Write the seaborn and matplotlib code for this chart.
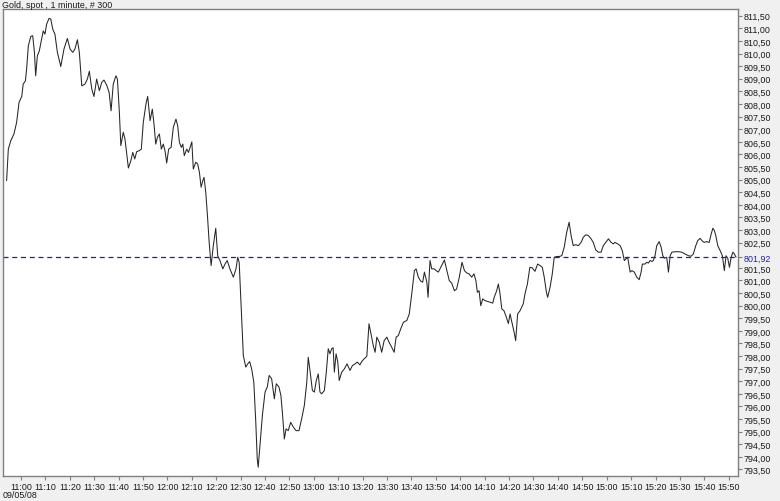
import matplotlib
matplotlib.use("Agg")
import matplotlib.pyplot as plt
import seaborn as sns
import pandas as pd
import numpy as np

# ---- data (bar index: 0 = 10:54, one bar per minute) ----
bar = [0.1, 0.8, 1.8, 3.1, 4.2, 5.2, 6.3, 6.9, 7.8, 8.3, 9.0, 10.0, 10.8, 11.5, 12.0, 12.7,
       13.5, 14.3, 15.1, 15.8, 16.5, 17.5, 18.2, 19.0, 19.9, 20.9, 22.3, 23.6, 25.0, 26.1,
       27.2, 28.1, 29.1, 29.9, 30.9, 32.2, 33.2, 34.0, 35.0, 35.9, 37.0, 38.1, 39.1, 40.0,
       41.1, 42.1, 42.9, 43.8, 44.9, 45.5, 46.3, 46.9, 47.9, 48.6, 50.0, 51.0, 51.8, 52.6,
       53.4, 54.5, 55.3, 56.1, 57.2, 57.9, 58.9, 59.8, 60.5, 61.2, 61.9, 62.7, 63.5, 64.3,
       65.0, 65.7, 66.5, 67.5, 68.4, 69.5, 70.2, 70.9, 71.7, 72.3, 72.9, 73.9, 74.6, 75.3,
       76.0, 76.6, 77.6, 78.4, 79.1, 79.8, 80.5, 81.0, 81.7, 82.4, 83.1, 83.9, 84.8, 85.8,
       86.6, 87.5, 88.7, 89.6, 90.5, 91.6, 93.0, 94.1, 94.8, 95.4, 95.7, 96.4, 97.1, 98.1,
       98.9, 99.7, 100.5, 101.4, 102.2, 102.8, 103.2, 103.9, 104.9, 106.0, 106.9, 107.7,
       108.7, 109.8, 110.6, 111.7, 112.5, 113.2, 113.9, 114.6, 115.5, 116.5, 117.6, 118.7,
       119.9, 121.0, 122.1, 123.1, 123.7, 124.5, 125.4, 126.2, 127.0, 127.8, 128.5, 129.2,
       130.3, 131.1, 131.9, 132.6, 133.3, 133.9, 134.4, 135.1, 135.8, 136.4, 137.4, 138.5,
       139.6, 140.8, 141.8, 142.9, 143.8, 144.9, 145.6, 146.6, 147.7, 148.6, 149.4, 150.4,
       151.1, 151.8, 152.8, 153.8, 154.8, 155.9, 156.8, 157.9, 158.9, 159.7, 160.6, 161.6,
       162.7, 164.1, 165.1, 166.1, 167.2, 167.9, 168.8, 169.8, 170.6, 171.3, 172.3, 172.8,
       173.6, 174.3, 175.3, 176.1, 177.0, 178.0, 178.8, 179.5, 180.5, 181.5, 182.5, 183.6,
       184.5, 185.6, 186.7, 187.7, 188.6, 189.6, 190.7, 191.6, 192.4, 193.0, 193.7, 194.4,
       195.2, 196.1, 197.1, 198.2, 199.3, 199.9, 200.9, 201.6, 202.3, 203.0, 203.9, 204.8,
       205.7, 206.4, 207.3, 208.2, 208.7, 209.5, 210.5, 211.2, 211.8, 212.5, 213.5, 214.5,
       215.5, 216.6, 217.7, 218.7, 219.6, 220.4, 221.3, 221.8, 222.8, 223.7, 224.5, 225.5,
       226.5, 227.6, 228.6, 229.6, 230.6, 231.4, 232.3, 233.3, 234.4, 235.5, 236.4, 237.4,
       238.5, 239.6, 240.5, 241.5, 242.6, 243.7, 244.6, 245.6, 246.7, 247.8, 248.7, 249.4,
       250.5, 251.5, 252.4, 253.2, 254.6, 255.6, 256.3, 257.3, 258.3, 259.3, 260.1, 260.6,
       261.7, 262.4, 263.1, 263.8, 264.5, 265.1, 265.8, 266.5, 267.5, 268.3, 269.0, 269.6,
       270.6, 271.3, 272.0, 272.7, 274.0, 275.4, 276.8, 278.1, 279.5, 280.6, 281.5, 282.5,
       283.3, 284.3, 285.0, 285.9, 287.0, 288.0, 288.8, 289.5, 290.1, 290.7, 291.5, 292.5,
       293.4, 294.2, 294.9, 295.6, 296.3, 297.0, 297.7, 298.3, 299.0]

price = [804.96, 806.21, 806.54, 806.81, 807.27, 808.07, 808.30, 808.79, 808.92, 809.39, 810.31,
         810.68, 810.71, 810.05, 809.12, 809.91, 810.11, 810.51, 810.90, 810.77, 811.17, 811.40,
         811.37, 810.97, 810.77, 810.05, 809.49, 810.18, 810.60, 810.18, 810.05, 810.18, 810.55,
         810.05, 808.72, 808.79, 808.99, 809.30, 808.59, 808.30, 808.99, 808.53, 808.86, 808.95,
         808.75, 808.46, 807.73, 808.79, 809.12, 808.99, 807.67, 806.35, 806.88, 806.61, 805.46,
         805.75, 806.08, 805.82, 806.11, 806.15, 806.21, 807.27, 808.00, 808.30, 807.34, 807.80,
         807.20, 806.41, 806.68, 806.81, 806.21, 806.41, 806.15, 805.66, 806.21, 806.28, 807.07,
         807.40, 807.14, 806.48, 806.28, 806.41, 805.95, 806.21, 806.08, 806.28, 806.50, 805.42,
         805.69, 805.62, 805.29, 804.70, 804.96, 805.09, 804.50, 803.57, 802.51, 801.59, 802.38,
         803.07, 801.98, 801.79, 801.46, 801.65, 801.79, 801.46, 801.13, 801.46, 801.92, 801.72,
         801.06, 799.60, 798.02, 797.56, 797.69, 797.78, 797.49, 796.96, 795.38, 793.92, 793.59,
         794.45, 795.64, 796.57, 796.77, 797.23, 797.10, 796.30, 796.90, 796.77, 796.43, 795.64,
         794.71, 795.11, 795.04, 795.37, 795.18, 795.04, 795.04, 795.51, 796.04, 796.96, 797.95,
         797.36, 796.63, 796.57, 797.03, 797.29, 796.57, 796.50, 796.63, 797.36, 798.29, 798.09,
         798.29, 798.33, 797.36, 798.09, 797.76, 797.03, 797.36, 797.49, 797.69, 797.43, 797.62,
         797.69, 797.76, 797.65, 797.78, 797.89, 797.99, 799.28, 798.88, 798.39, 798.15, 798.75,
         798.55, 798.15, 798.61, 798.75, 798.55, 798.35, 798.15, 798.75, 798.81, 799.08, 799.34,
         799.41, 799.67, 800.46, 801.39, 801.46, 801.13, 800.97, 800.93, 801.33, 800.93, 800.33,
         801.79, 801.46, 801.46, 801.39, 801.33, 801.52, 801.68, 801.81, 801.39, 800.99, 800.89,
         800.59, 800.66, 801.13, 801.72, 801.39, 801.30, 801.26, 801.13, 801.26, 800.99, 800.53,
         800.59, 800.00, 800.27, 800.20, 800.17, 800.14, 800.10, 800.33, 800.59, 800.86, 800.46,
         799.87, 799.80, 799.56, 799.29, 799.67, 799.27, 798.88, 798.61, 799.67, 799.80, 799.94,
         800.07, 800.46, 800.86, 801.52, 801.50, 801.36, 801.65, 801.59, 801.52, 801.13, 800.53,
         800.33, 800.73, 801.26, 801.92, 801.95, 801.95, 801.98, 802.32, 802.91, 803.31, 802.78,
         802.38, 802.42, 802.38, 802.51, 802.71, 802.81, 802.78, 802.65, 802.51, 802.21, 802.12,
         802.12, 802.38, 802.51, 802.65, 802.51, 802.45, 802.51, 802.45, 802.38, 802.18, 801.79,
         801.92, 801.33, 801.39, 801.33, 801.13, 801.03, 801.33, 801.65, 801.65, 801.72, 801.69,
         801.79, 801.75, 801.79, 801.98, 802.38, 802.54, 802.32, 801.98, 801.88, 801.92, 801.33,
         801.98, 802.12, 802.14, 802.14, 802.12, 802.05, 801.98, 801.96, 802.05, 802.38, 802.58,
         802.67, 802.58, 802.51, 802.54, 802.51, 802.84, 803.07, 802.98, 802.78, 802.38, 802.18,
         801.98, 801.39, 801.98, 801.88, 801.52, 801.92, 802.12, 802.05, 801.92]

last_price = 801.92
tick_bars = [6 + 10 * k for k in range(30)]
tick_labels = ["11:00", "11:10", "11:20", "11:30", "11:40", "11:50", "12:00", "12:10",
               "12:20", "12:30", "12:40", "12:50", "13:00", "13:10", "13:20", "13:30",
               "13:40", "13:50", "14:00", "14:10", "14:20", "14:30", "14:40", "14:50",
               "15:00", "15:10", "15:20", "15:30", "15:40", "15:50"]
price_ticks = [793.5 + 0.5 * k for k in range(37)]
title = "Gold, spot , 1 minute, # 300"
date_label = "09/05/08"

df = pd.DataFrame({"bar": bar, "price": price})

sns.set_theme(style="white")
FONT = ["Liberation Sans", "DejaVu Sans"]
plt.rcParams["font.family"] = FONT
BG = "#f0f0f0"
SP = "#808080"
FS = 6.4
TXT = "#1a1a1a"

fig = plt.figure(figsize=(7.8, 5.02), dpi=100, facecolor=BG)
W, H = 780, 502
ax = fig.add_axes([3 / W, (H - 477) / H, (738 - 3) / W, (477 - 10) / H])
ax.set_facecolor("white")

sns.lineplot(data=df, x="bar", y="price", ax=ax, color="#262626", linewidth=0.75,
             estimator=None, sort=False)
ax.axhline(last_price, color="#23238e", linewidth=0.9, dashes=(4, 3))

ax.set_xlim(-1.38, 299.8)
ax.set_ylim(793.24, 811.77)

ax.set_xticks(tick_bars)
ax.set_xticklabels(tick_labels)
yt = [v for v in price_ticks if abs(v - 802.0) > 1e-6] + [last_price]
ax.set_yticks(yt)
ylabels = [f"{v:.2f}".replace(".", ",") for v in yt]
ax.set_yticklabels(ylabels)
ax.yaxis.tick_right()
ax.tick_params(axis="y", which="both", direction="out", length=3, width=0.8, color=SP,
               labelsize=FS, pad=1, labelcolor=TXT, right=True, left=False)
ax.tick_params(axis="x", direction="out", length=3, width=0.8, color=SP,
               labelsize=FS, pad=1, labelcolor=TXT, bottom=True)
for lab in ax.get_yticklabels():
    if lab.get_text() == "801,92":
        lab.set_color("#2020b0")

for s in ax.spines.values():
    s.set_visible(True)
    s.set_color(SP)
    s.set_linewidth(1.0)

ax.set_xlabel("")
ax.set_ylabel("")
fig.text(2 / W, 1 - 5 / H, title, fontsize=FS, ha="left", va="center", color=TXT)
fig.text(3 / W, 1 - 496 / H, date_label, fontsize=FS, ha="left", va="center", color=TXT)

fig.savefig("out.png", dpi=100, facecolor=BG)
